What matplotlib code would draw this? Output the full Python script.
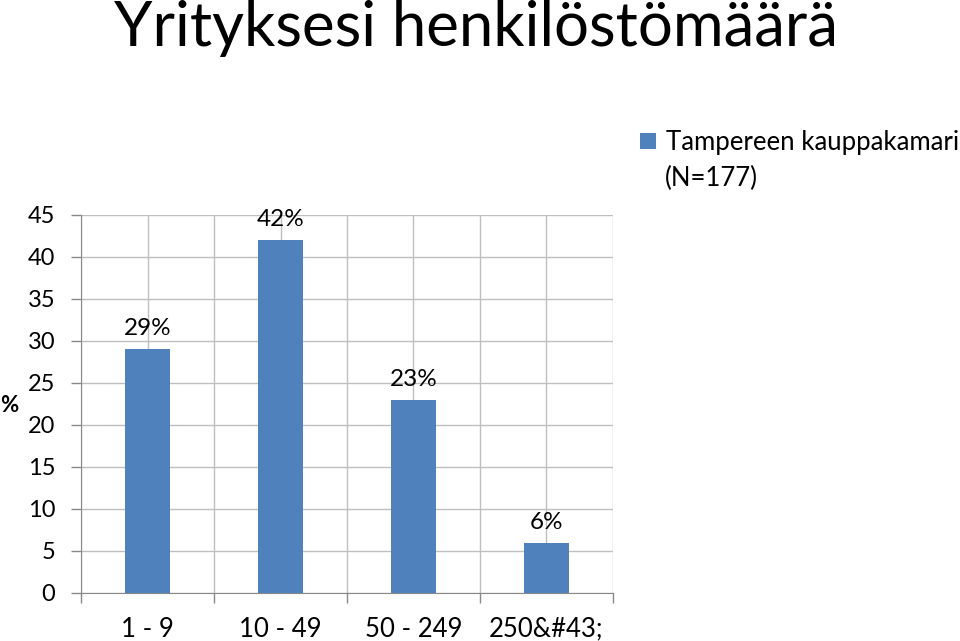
import matplotlib
matplotlib.use("Agg")
from matplotlib import pyplot as plt
import numpy as np

plt.rcParams['font.family'] = ['Lato', 'DejaVu Sans']

categories = ["1 - 9", "10 - 49", "50 - 249", "250&#43;"]
values = [29, 42, 23, 6]
labels = ["29%", "42%", "23%", "6%"]
series_name = "Tampereen kauppakamari"
series_note = "(N=177)"
title = "Yrityksesi henkilöstömäärä"

fig = plt.figure(figsize=(9.6, 6.41), dpi=100)
ax = fig.add_axes([0.0844, 0.0749, 0.5541, 0.5897])

x = np.arange(len(categories))
bars = ax.bar(x, values, width=0.34, color="#4F81BD", label=series_name, zorder=3)

for xi, v, lab in zip(x, values, labels):
    ax.text(xi, v + 1.2, lab, ha="center", va="bottom", fontsize=17.5)

ax.set_xlim(-0.5, len(categories) - 0.5)
ax.set_ylim(0, 45)
ax.set_yticks(range(0, 46, 5))
ax.tick_params(axis="y", labelsize=17, color="#888888", length=7.5, width=1, pad=11)

# vertical grid at category centres and boundaries
for b in np.arange(-0.5, len(categories), 0.5):
    ax.axvline(b, color="#BFBFBF", lw=1, zorder=1)
ax.grid(axis="y", color="#BFBFBF", lw=1, zorder=1)

ax.set_xticks(np.arange(-0.5, len(categories), 1.0))
ax.set_xticklabels([])
ax.set_xticks(x, minor=True)
ax.set_xticklabels(categories, minor=True, fontsize=18.5)
ax.tick_params(axis="x", which="major", color="#888888", length=7.5, width=1)
ax.tick_params(axis="x", which="minor", length=0, pad=17)

for side in ["top", "right"]:
    ax.spines[side].set_visible(False)
ax.spines["left"].set_color("#888888")
ax.spines["bottom"].set_color("#888888")

fig.text(0.0, 0.368, "%", fontsize=16, fontweight="bold", ha="left", va="center")
fig.text(0.119, 0.929, title, fontsize=44.5, ha="left", va="baseline")

fig.legend(loc="upper left", bbox_to_anchor=(0.667, 0.797), frameon=False,
           fontsize=18.5, handlelength=0.6, handleheight=0.6, handletextpad=0.4,
           borderaxespad=0, borderpad=0)
fig.text(0.693, 0.722, series_note, fontsize=18.5, ha="left", va="center")

fig.savefig("out.png", dpi=100)
